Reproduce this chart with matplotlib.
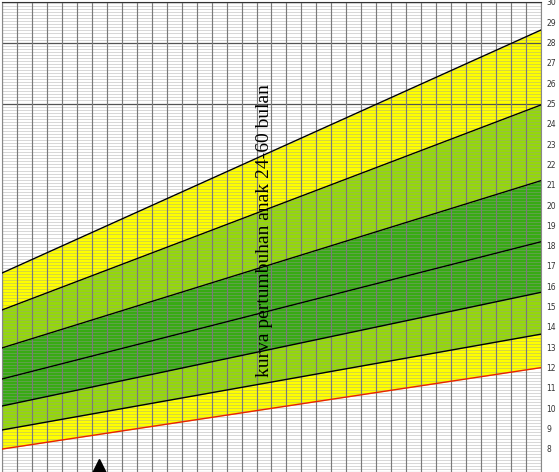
import numpy as np
import matplotlib
matplotlib.use("Agg")
import matplotlib.pyplot as plt

# Data: months and weight (kg) reference lines
months = [24, 60]
sd_m3 = [7.98, 11.99]   # red bottom line
sd_m2 = [8.92, 13.64]
sd_m1 = [10.10, 15.70]
sd_0 = [11.43, 18.19]
sd_p1 = [12.96, 21.20]
sd_p2 = [14.83, 24.93]
sd_p3 = [16.65, 28.62]
y_ticks = list(range(8, 31))
marker_month = [30.5]
marker_weight = [7.12]
title_text = "kurva pertumbuhan anak 24-60 bulan"

W, H = 559, 472
fig = plt.figure(figsize=(W / 100, H / 100), dpi=100)
ax = fig.add_axes([2 / W, 0, 539 / W, 470 / H])
ax.set_xlim(24, 60)
ax.set_ylim(6.85, 30)

yellow = "#FFFF00"
lgreen = "#95D80A"
dgreen = "#38AA14"

ax.fill_between(months, sd_m3, sd_m2, color=yellow, lw=0, zorder=1)
ax.fill_between(months, sd_m2, sd_m1, color=lgreen, lw=0, zorder=1)
ax.fill_between(months, sd_m1, sd_0, color=dgreen, lw=0, zorder=1)
ax.fill_between(months, sd_0, sd_p1, color=dgreen, lw=0, zorder=1)
ax.fill_between(months, sd_p1, sd_p2, color=lgreen, lw=0, zorder=1)
ax.fill_between(months, sd_p2, sd_p3, color=yellow, lw=0, zorder=1)

# grid
for yv in np.arange(7.0, 30.001, 0.15):
    ax.axhline(yv, color="#9a9a9a", lw=0.5, alpha=0.55, zorder=2)
for yv in [25, 28]:
    ax.axhline(yv, color="#555555", lw=0.9, zorder=2)
for xv in range(24, 61):
    ax.axvline(xv, color="#7a7a7a", lw=0.85, zorder=2)

for s in [sd_m2, sd_m1, sd_0, sd_p1, sd_p2, sd_p3]:
    ax.plot(months, s, color="black", lw=1.0, zorder=3)
ax.plot(months, sd_m3, color="#E8200A", lw=1.0, zorder=3)

ax.plot(marker_month, marker_weight, marker="^", color="black", ms=11, ls="none", zorder=4, clip_on=False)

ax.text(41.55, 18.75, title_text, rotation=90, ha="center", va="center",
        fontsize=14, family="Liberation Serif", color="black", zorder=5)

ax.yaxis.tick_right()
ax.set_yticks(y_ticks)
ax.set_yticklabels([str(v) for v in y_ticks], fontsize=5.5, color="#333333")
ax.tick_params(axis="y", length=0, pad=4)
ax.set_xticks([])
for sp in ax.spines.values():
    sp.set_color("#888888")
    sp.set_linewidth(0.8)
ax.spines["top"].set_color("#333333")

fig.savefig("out.png", dpi=100)
